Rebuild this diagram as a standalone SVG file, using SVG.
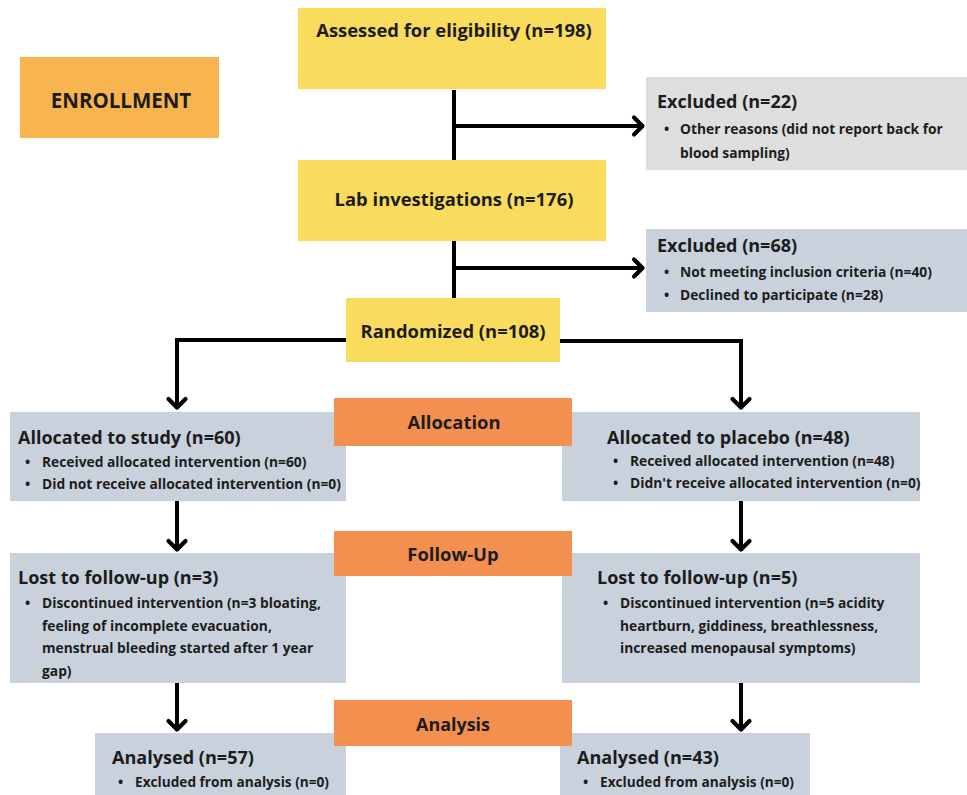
<svg xmlns="http://www.w3.org/2000/svg" width="967" height="795" viewBox="0 0 967 795">
<defs>
<style>
.yel{fill:#F9DC5E}
.enr{fill:#F8B44E}
.org{fill:#F39050}
.gry{fill:#DEDEDE}
.blu{fill:#C9D2DC}
text{font-family:"Open Sans","Liberation Sans",sans-serif;font-weight:700;fill:#1c1c1c}
.t{font-size:18.4px}
.e{font-size:20.5px}
.h{font-size:18px}
.b{font-size:13.8px}
.c{text-anchor:middle}
.ln{stroke:#000;stroke-width:4;fill:none}
</style>
<marker id="arr" viewBox="-14 -12 16 24" markerWidth="16" markerHeight="24" refX="0" refY="0" orient="auto" markerUnits="userSpaceOnUse">
<path d="M-10,-8.5 L-1.5,0 L-10,8.5" fill="none" stroke="#000" stroke-width="4.2" stroke-linecap="round" stroke-linejoin="round"/>
</marker>
</defs>
<rect width="967" height="795" fill="#fff"/>

<g id="enrollment"><rect class="enr" x="20" y="57" width="199" height="81"/><text class="e c" x="121" y="108">ENROLLMENT</text></g>

<g id="assessed"><rect class="yel" x="298" y="8" width="308" height="81"/><text class="t c" x="454" y="37">Assessed for eligibility (n=198)</text></g>

<g id="excluded22"><rect class="gry" x="646" y="77" width="321" height="93"/>
<text class="h" x="657" y="108">Excluded (n=22)</text>
<text class="b" x="664" y="134">•</text><text class="b" x="680" y="134">Other reasons (did not report back for</text>
<text class="b" x="680" y="158">blood sampling)</text></g>

<g id="lab"><rect class="yel" x="298" y="160" width="308" height="81"/><text class="t c" x="454" y="206">Lab investigations (n=176)</text></g>

<g id="excluded68"><rect class="blu" x="646" y="229" width="321" height="83"/>
<text class="h" x="657" y="252">Excluded (n=68)</text>
<text class="b" x="664" y="277">•</text><text class="b" x="680" y="277">Not meeting inclusion criteria (n=40)</text>
<text class="b" x="664" y="300">•</text><text class="b" x="680" y="300">Declined to participate (n=28)</text></g>

<g id="randomized"><rect class="yel" x="346" y="298" width="214" height="64"/><text class="t c" x="453" y="338">Randomized (n=108)</text></g>

<g id="study"><rect class="blu" x="10" y="412" width="336" height="89"/>
<text class="h" x="18" y="444">Allocated to study (n=60)</text>
<text class="b" x="25" y="467">•</text><text class="b" x="42" y="467">Received allocated intervention (n=60)</text>
<text class="b" x="25" y="489">•</text><text class="b" x="42" y="489">Did not receive allocated intervention (n=0)</text></g>

<g id="placebo"><rect class="blu" x="562" y="412" width="358" height="89"/>
<text class="h" x="607" y="444">Allocated to placebo (n=48)</text>
<text class="b" x="613" y="466">•</text><text class="b" x="630" y="466">Received allocated intervention (n=48)</text>
<text class="b" x="613" y="488">•</text><text class="b" x="630" y="488">Didn't receive allocated intervention (n=0)</text></g>

<g id="allocation"><rect class="org" x="334" y="398" width="238" height="48"/><text class="t c" x="454" y="429">Allocation</text></g>

<g id="lost3"><rect class="blu" x="10" y="553" width="336" height="130"/>
<text class="h" x="18" y="584">Lost to follow-up (n=3)</text>
<text class="b" x="25" y="608">•</text><text class="b" x="42" y="608">Discontinued intervention (n=3 bloating,</text>
<text class="b" x="42" y="631">feeling of incomplete evacuation,</text>
<text class="b" x="42" y="653">menstrual bleeding started after 1 year</text>
<text class="b" x="42" y="676">gap)</text></g>

<g id="lost5"><rect class="blu" x="562" y="553" width="358" height="130"/>
<text class="h" x="597" y="584">Lost to follow-up (n=5)</text>
<text class="b" x="603" y="608">•</text><text class="b" x="620" y="608">Discontinued intervention (n=5 acidity</text>
<text class="b" x="620" y="631">heartburn, giddiness, breathlessness,</text>
<text class="b" x="620" y="653">increased menopausal symptoms)</text></g>

<g id="followup"><rect class="org" x="334" y="531" width="238" height="45"/><text class="t c" x="453" y="561">Follow-Up</text></g>

<g id="analysed57"><rect class="blu" x="95" y="733" width="251" height="62"/>
<text class="h" x="112" y="764" textLength="142" lengthAdjust="spacingAndGlyphs">Analysed (n=57)</text>
<text class="b" x="118" y="787">•</text><text class="b" x="135" y="787" textLength="194" lengthAdjust="spacingAndGlyphs">Excluded from analysis (n=0)</text></g>

<g id="analysed43"><rect class="blu" x="560" y="733" width="250" height="62"/>
<text class="h" x="577" y="764" textLength="142" lengthAdjust="spacingAndGlyphs">Analysed (n=43)</text>
<text class="b" x="583" y="787">•</text><text class="b" x="600" y="787" textLength="194" lengthAdjust="spacingAndGlyphs">Excluded from analysis (n=0)</text></g>

<g id="analysis"><rect class="org" x="334" y="700" width="238" height="46"/><text class="t c" x="453" y="731" textLength="74" lengthAdjust="spacingAndGlyphs">Analysis</text></g>

<g id="connectors">
<path class="ln" d="M454,90 V160"/>
<path class="ln" d="M454,126 H644" marker-end="url(#arr)"/>
<path class="ln" d="M454,241 V298"/>
<path class="ln" d="M454,268 H644" marker-end="url(#arr)"/>
<path class="ln" d="M346,340 H177 V409" marker-end="url(#arr)"/>
<path class="ln" d="M560,341 H741 V409" marker-end="url(#arr)"/>
<path class="ln" d="M177,501 V551" marker-end="url(#arr)"/>
<path class="ln" d="M741,501 V551" marker-end="url(#arr)"/>
<path class="ln" d="M177,683 V731" marker-end="url(#arr)"/>
<path class="ln" d="M741,683 V731" marker-end="url(#arr)"/>
</g>
</svg>
